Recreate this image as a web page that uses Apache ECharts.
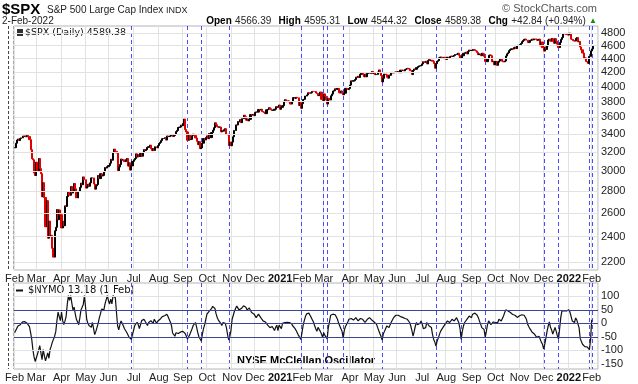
<!DOCTYPE html>
<html><head><meta charset="utf-8">
<script src="https://cdn.jsdelivr.net/npm/echarts@6/dist/echarts.min.js"></script>
<style>html,body{margin:0;padding:0;background:#fff}#c{width:638px;height:384px}</style>
</head><body><div id="c"></div>
<script>
// ---------- DATA ----------
const holidays = ['2020-02-17','2020-04-10','2020-05-25','2020-07-03','2020-09-07','2020-11-26','2020-12-25',
  '2021-01-01','2021-01-18','2021-02-15','2021-04-02','2021-05-31','2021-07-05','2021-09-06','2021-11-25','2021-12-24','2022-01-17'];
const monthNames = ['Jan','Feb','Mar','Apr','May','Jun','Jul','Aug','Sep','Oct','Nov','Dec'];
const priceTicks = [2200,2400,2600,2800,3000,3200,3400,3600,3800,4000,4200,4400,4600,4800];
const nymoTicks = [100,50,0,-50,-100,-150];
const nymoBands = [50,0,-50];
const oversoldDates = ['2020-06-29','2020-09-08','2020-09-24','2020-10-28','2021-01-29','2021-02-26','2021-03-04',
  '2021-03-24','2021-05-12','2021-07-20','2021-08-19','2021-09-20','2021-12-01','2021-12-20','2022-01-28','2022-02-01'];

// S&P 500 daily closes, 3-Feb-2020 .. 2-Feb-2022
const spxClose = [
 3248,3297,3334,3345,3328,3352,3358,3379,3374,3380,3370,3386,3373,3338,3226,3128,3116,2979,2954,
 3090,3003,3130,3024,2972,2747,2882,2741,2481,2711,2386,2529,2398,2409,2305,2237,2447,2476,2630,2541,2627,2585,
 2471,2527,2489,2664,2659,2750,2790,2762,2846,2783,2800,2875,2823,2737,2799,2798,2837,2878,2863,2940,2912,
 2830,2842,2868,2848,2881,2930,2930,2870,2820,2852,2864,2954,2923,2972,2949,2955,2992,3036,3030,3044,
 3056,3081,3122,3112,3194,3232,3207,3190,3002,3041,3067,3125,3113,3115,3098,3117,3131,3050,3084,3009,3053,3100,
 3116,3130,3180,3146,3170,3152,3185,3155,3197,3227,3216,3225,3251,3258,3276,3236,3216,3239,3218,3258,3246,3271,
 3295,3306,3327,3349,3351,3360,3333,3380,3373,3373,3381,3390,3375,3385,3397,3431,3444,3479,3484,3508,3500,
 3526,3580,3455,3427,3331,3398,3339,3341,3383,3401,3385,3357,3319,3281,3315,3237,3246,3298,3351,3335,3363,
 3381,3348,3408,3361,3419,3447,3477,3535,3512,3489,3483,3484,3427,3443,3436,3453,3465,3401,3391,3271,3310,3270,
 3310,3370,3443,3510,3509,3550,3546,3573,3537,3585,3627,3610,3567,3582,3558,3577,3635,3629,3638,3622,
 3662,3669,3666,3699,3692,3702,3673,3668,3663,3647,3695,3702,3722,3709,3695,3687,3690,3703,3735,3727,3732,3756,
 3701,3726,3748,3804,3825,3799,3801,3810,3795,3768,3799,3852,3853,3841,3855,3849,3750,3787,3714,
 3774,3826,3830,3872,3887,3916,3911,3910,3917,3934,3933,3932,3913,3907,3877,3881,3925,3829,3811,
 3901,3871,3820,3768,3842,3821,3875,3899,3939,3943,3969,3962,3974,3915,3913,3941,3910,3889,3910,3975,3971,3959,3973,
 4020,4078,4074,4080,4097,4129,4128,4142,4125,4171,4185,4163,4135,4173,4135,4180,4187,4187,4184,4211,4181,
 4193,4165,4168,4202,4233,4189,4152,4063,4113,4174,4164,4128,4116,4160,4156,4197,4189,4196,4201,4204,
 4202,4209,4193,4230,4226,4227,4220,4239,4247,4255,4247,4224,4222,4166,4224,4246,4242,4266,4281,4291,4292,4298,
 4320,4352,4344,4358,4320,4370,4385,4369,4374,4360,4327,4258,4323,4359,4368,4412,4422,4401,4400,4419,4395,
 4387,4423,4403,4429,4437,4432,4436,4447,4460,4468,4480,4449,4400,4406,4442,4480,4486,4497,4470,4509,4529,4523,
 4524,4537,4535,4521,4514,4493,4459,4469,4443,4481,4474,4433,4358,4354,4396,4449,4455,4443,4353,4360,4308,
 4357,4300,4346,4363,4399,4391,4361,4351,4364,4438,4471,4487,4520,4537,4549,4545,4567,4575,4551,4597,4605,
 4614,4631,4660,4680,4697,4702,4685,4646,4650,4683,4683,4701,4689,4705,4698,4682,4691,4701,4595,4655,4567,
 4513,4577,4538,4592,4686,4701,4668,4712,4669,4635,4709,4669,4621,4568,4649,4697,4726,4791,4786,4793,4778,4766,
 4797,4794,4701,4696,4677,4670,4713,4726,4659,4663,4577,4533,4483,4398,4410,4357,4350,4327,4432,4516,
 4546,4589.38
];

// NYSE McClellan Oscillator daily values
const nymo = [
 -35,-30,-18,-10,-8,-5,2,5,11,6,3,0,-2,-12,-35,-60,-98,-125,-142,
 -128,-115,-100,-83,-110,-135,-98,-120,-140,-125,-110,-130,-98,-85,-70,-65,-48,-30,10,42,25,10,
 42,10,-5,8,25,70,103,85,103,75,50,60,35,15,5,-5,20,50,60,70,103,
 60,15,0,-8,-12,-15,3,-20,-42,-30,-15,0,20,35,53,60,50,72,65,103,
 84,72,90,72,103,110,95,40,-10,-24,-5,9,0,-10,-20,-25,-34,-40,-52,-50,-60,-40,
 -25,-8,-2,4,-5,-20,-5,10,5,15,8,0,-8,2,5,10,4,0,15,8,0,8,
 10,15,20,25,30,28,32,34,25,15,5,-8,-36,-42,-48,-35,-30,-38,-40,-32,-27,
 -30,-33,-38,-48,-58,-50,-42,-35,-20,-8,-2,3,-15,-35,-50,-57,-66,-40,-20,-5,15,
 34,38,45,50,55,63,58,55,35,21,12,5,0,-8,3,9,0,-16,-42,-62,-48,-25,
 15,30,45,55,64,58,50,52,55,57,65,72,60,50,54,57,48,40,45,35,
 28,21,28,34,28,21,15,9,7,5,0,-7,-12,-16,-20,-12,-7,-27,-15,-7,-27,-7,
 -12,-20,0,5,3,9,4,0,3,5,-2,-10,-15,-20,-28,-35,-45,-50,-60,
 -35,-8,10,25,35,40,38,30,22,15,5,-8,-20,-30,-15,-22,-30,-40,-52,
 -35,-45,-50,-58,-15,5,30,28,34,30,32,34,15,0,-10,-20,-30,-55,-25,-12,-5,5,15,
 21,18,15,12,18,21,15,9,12,18,21,15,10,3,8,15,18,21,15,12,9,
 5,3,-3,-15,-27,-38,-48,-62,-40,-30,-20,-10,-12,-16,-5,5,9,21,25,30,
 34,30,27,25,27,22,15,18,21,15,8,3,-10,-27,-48,-30,-10,3,-5,-10,0,9,
 -3,-20,-18,-16,3,-2,-10,-12,-16,-42,-60,-70,-85,-66,-55,-42,-30,-23,-16,-10,-3,
 0,9,5,3,8,15,12,9,15,21,15,2,-20,-60,-30,-10,3,8,15,20,27,24,
 21,34,36,38,40,30,21,8,-3,-16,-10,-23,-52,-30,-5,9,2,-5,-3,5,9,
 3,5,3,15,12,9,15,27,40,50,48,46,44,40,36,33,32,30,26,22,25,
 28,30,32,30,30,25,15,-3,-12,-20,-27,-33,-38,-40,-45,-52,-50,-48,-55,-70,-78,
 -95,-78,-55,-30,-10,5,-15,-25,-40,-28,-15,-30,-46,-58,-20,22,46,48,47,48,46,48,
 50,42,35,9,5,3,20,12,9,-17,-57,-68,-78,-85,-87,-82,-88,-93,-98,-60,
 13.18,null
];

// ---------- BUILD ----------
const dates = [];
{
  let t = Date.UTC(2020,1,3); const end = Date.UTC(2022,1,8);
  while (t <= end) {
    const d = new Date(t), wd = d.getUTCDay(), s = d.toISOString().slice(0,10);
    if (wd !== 0 && wd !== 6 && !holidays.includes(s)) dates.push(s);
    t += 86400000;
  }
}
const monthStart = dates.map((s,i) => i === 0 || s.slice(0,7) !== dates[i-1].slice(0,7));
const ohlc = spxClose.map((c,i) => { const o = i ? spxClose[i-1] : c; return [o, c, Math.min(o,c), Math.max(o,c)]; });

const FONT = 'Liberation Sans, Arial, sans-serif';
const GRID_C = '#e2e2e2';
const BLUE = '#4a4aff';
const NAVY = '#3a4595';

const xLabel = {
  interval: (i) => monthStart[i],
  formatter: (v) => { const m = +v.slice(5,7); return m === 1 ? '{y|' + v.slice(0,4) + '}' : monthNames[m-1]; },
  color: '#222', fontSize: 11, fontFamily: FONT, margin: 3,
  rich: { y: { fontWeight: 'bold', fontSize: 11, color: '#111', fontFamily: FONT } }
};
const xSplit = { show: true, interval: (i) => monthStart[i], lineStyle: { color: GRID_C, width: 1 } };

// vertical dashed lines at oversold dates, positioned through the category axis
function vLine(refY) {
  return (params, api) => {
    const x = Math.round(api.coord([api.value(0), refY])[0]) + 0.5;
    const cs = params.coordSys;
    return { type: 'line', silent: true,
      shape: { x1: x, y1: cs.y, x2: x, y2: cs.y + cs.height },
      style: { stroke: BLUE, fill: null, lineDash: [4,3], lineWidth: 1 } };
  };
}
const oversoldData = oversoldDates.map(d => [d]);

const chart = echarts.init(document.getElementById('c'), null, { renderer: 'canvas' });
chart.setOption({
  animation: false,
  backgroundColor: '#fff',
  grid: [
    { left: 14, right: 40, top: 26, height: 244, show: true, borderColor: '#b4b4b4', borderWidth: 1 },
    { left: 14, right: 40, top: 283, height: 86, show: true, borderColor: '#b4b4b4', borderWidth: 1 }
  ],
  xAxis: [
    { type: 'category', gridIndex: 0, data: dates, boundaryGap: true, axisLine: { show: false }, axisTick: { show: false }, axisLabel: xLabel, splitLine: xSplit },
    { type: 'category', gridIndex: 1, data: dates, boundaryGap: true, axisLine: { show: false }, axisTick: { show: false }, axisLabel: xLabel, splitLine: xSplit }
  ],
  yAxis: [
    { type: 'log', logBase: 10, gridIndex: 0, position: 'right', min: 2141, max: 4916, axisLabel: { show: false }, axisLine: { show: false }, axisTick: { show: false }, splitLine: { show: false } },
    { type: 'value', gridIndex: 1, position: 'right', min: -170, max: 150, interval: 10,
      axisLine: { show: false }, axisTick: { show: false }, splitLine: { show: false },
      axisLabel: { margin: 3, color: '#222', fontSize: 11, fontFamily: FONT,
        formatter: (v) => nymoTicks.includes(v) ? String(v) : '' } }
  ],
  series: [
    { type: 'line', xAxisIndex: 0, yAxisIndex: 0, data: dates.map(() => null), z: 1, silent: true, showSymbol: false,
      markLine: { silent: true, symbol: 'none', animation: false,
        lineStyle: { color: GRID_C, type: 'solid', width: 1 },
        label: { show: true, position: 'end', distance: 3, color: '#222', fontSize: 11, fontFamily: FONT, formatter: (p) => String(p.value) },
        data: priceTicks.map(v => ({ yAxis: v })) } },
    { type: 'custom', xAxisIndex: 0, yAxisIndex: 0, data: oversoldData, z: 2, silent: true, clip: false,
      encode: { x: 0 }, renderItem: vLine(3000) },
    { type: 'candlestick', xAxisIndex: 0, yAxisIndex: 0, data: ohlc, z: 3, barWidth: 1.6,
      itemStyle: { color: '#000', color0: '#e00000', borderColor: '#000', borderColor0: '#e00000', borderWidth: 1 } },
    { type: 'line', xAxisIndex: 1, yAxisIndex: 1, data: dates.map(() => null), z: 1, silent: true, showSymbol: false,
      markLine: { silent: true, symbol: 'none', animation: false, label: { show: false },
        data: [
          ...[100,-100,-150].map(v => ({ yAxis: v, lineStyle: { color: GRID_C, type: 'solid', width: 1 } })),
          ...nymoBands.map(v => ({ yAxis: v, lineStyle: { color: NAVY, type: 'solid', width: 1.2 } }))
        ] } },
    { type: 'custom', xAxisIndex: 1, yAxisIndex: 1, data: oversoldData, z: 2, silent: true, clip: false,
      encode: { x: 0 }, renderItem: vLine(0) },
    { type: 'line', xAxisIndex: 1, yAxisIndex: 1, data: nymo, z: 3, showSymbol: false, connectNulls: false,
      lineStyle: { color: '#111', width: 1.2 } }
  ],
  graphic: [
    { type: 'line', shape: { x1: 8.5, y1: 26, x2: 8.5, y2: 270 }, style: { stroke: '#444', lineDash: [3,2], lineWidth: 1 } },
    { type: 'line', shape: { x1: 8.5, y1: 283, x2: 8.5, y2: 369 }, style: { stroke: '#444', lineDash: [3,2], lineWidth: 1 } },
    { type: 'line', shape: { x1: 14, y1: 26, x2: 14, y2: 270 }, style: { stroke: '#777', lineDash: [3,2], lineWidth: 1 } },
    { type: 'line', shape: { x1: 14, y1: 283, x2: 14, y2: 369 }, style: { stroke: '#777', lineDash: [3,2], lineWidth: 1 } },
    { type: 'text', left: 2, top: 2, style: { text: '$SPX', font: 'bold 15px ' + FONT, fill: '#000' } },
    { type: 'text', left: 47, top: 5, style: { text: 'S&P 500 Large Cap Index', font: '10px ' + FONT, fill: '#222' } },
    { type: 'text', left: 166, top: 6, style: { text: 'INDX', font: '9px ' + FONT, fill: '#222' } },
    { type: 'text', left: 2, top: 16, style: { text: '2-Feb-2022', font: '10px ' + FONT, fill: '#222' } },
    { type: 'text', right: 41, top: 3, style: { text: '© StockCharts.com', font: '11px ' + FONT, fill: '#555' } },
    { type: 'text', right: 41, top: 15, style: {
        text: '{b|Open} {n|4566.39} {b|High} {n|4595.31} {b|Low} {n|4544.32} {b|Close} {n|4589.38} {b|Chg} {n|+42.84 (+0.94%)} {g|▲}',
        rich: { b: { font: 'bold 10px ' + FONT, fill: '#000', padding: [0,0,0,4] }, n: { font: '10px ' + FONT, fill: '#222' }, g: { font: '8px ' + FONT, fill: '#1a8a1a' } } } },
    { type: 'rect', shape: { x: 17, y: 29, width: 6, height: 7 }, style: { fill: '#333' } },
    { type: 'text', left: 25, top: 28, style: { text: '$SPX (Daily) 4589.38', font: '9.5px DejaVu Sans, sans-serif', fill: '#111' } },
    { type: 'line', shape: { x1: 16, y1: 290.5, x2: 23, y2: 290.5 }, style: { stroke: '#111', lineWidth: 2 } },
    { type: 'text', left: 28, top: 285, style: { text: '$NYMO 13.18 (1 Feb)', font: '10px DejaVu Sans, sans-serif', fill: '#111' } },
    { type: 'text', left: 237, top: 355, style: { text: 'NYSE McClellan Oscillator', font: 'bold 11px ' + FONT, fill: '#000' } }
  ]
});
</script></body></html>
